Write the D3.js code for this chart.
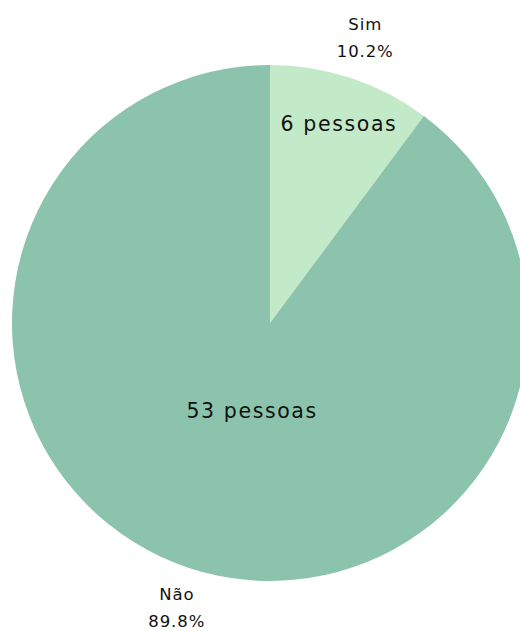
<!DOCTYPE html>
<html>
<head>
<meta charset="utf-8">
<script src="https://cdn.jsdelivr.net/npm/d3@7"></script>
<style>
  html, body { margin: 0; padding: 0; background: #fff; }
  svg { display: block; font-family: "DejaVu Sans", "Inter", sans-serif; }
</style>
</head>
<body>
<svg id="chart" width="520" height="631"></svg>
<script>
// Answers and head counts
const categories = ["Sim", "Não"];
const counts = [6, 53];
const colors = ["#c3eac8", "#8cc3ac"];

const width = 520, height = 631;
const cx = 270, cy = 323, radius = 258;

const svg = d3.select("#chart");
const g = svg.append("g").attr("transform", `translate(${cx},${cy})`);

const total = d3.sum(counts);
const data = categories.map((c, i) => ({ label: c, value: counts[i], color: colors[i] }));

const pie = d3.pie().value(d => d.value).sort(null);
const arcs = pie(data);

const arc = d3.arc().innerRadius(0).outerRadius(radius);

g.selectAll("path.slice")
  .data(arcs)
  .join("path")
  .attr("class", "slice")
  .attr("d", arc)
  .attr("fill", d => d.data.color);

// point at a given radius along the slice's middle angle
function polar(d, r) {
  const a = (d.startAngle + d.endAngle) / 2;
  return [Math.sin(a) * r, -Math.cos(a) * r];
}

// counts inside the slices (small slice near the rim, large one near the centre)
g.selectAll("text.inner")
  .data(arcs)
  .join("text")
  .attr("class", "inner")
  .attr("transform", d => {
    const small = d.value / total < 0.5;
    const [x, y] = polar(d, small ? 210 : 92);
    return `translate(${x + (small ? 3 : 11)},${y})`;
  })
  .attr("text-anchor", "middle")
  .attr("dy", "0.35em")
  .attr("font-size", 20.5)
  .attr("letter-spacing", 1.6)
  .attr("fill", "#111")
  .text(d => `${d.value} pessoas`);

// category and share outside the pie
const outer = g.selectAll("g.outer")
  .data(arcs)
  .join("g")
  .attr("class", "outer")
  .attr("transform", d => {
    const [x, y] = polar(d, 300);
    return `translate(${x + 1},${y})`;
  });

outer.append("text")
  .attr("text-anchor", "middle")
  .attr("y", -14)
  .attr("dy", "0.35em")
  .attr("font-size", 16.5)
  .attr("letter-spacing", 0.9)
  .attr("fill", "#111")
  .text(d => d.data.label);

outer.append("text")
  .attr("text-anchor", "middle")
  .attr("y", 13)
  .attr("dy", "0.35em")
  .attr("font-size", 16.5)
  .attr("letter-spacing", 0.9)
  .attr("fill", "#111")
  .text(d => d3.format(".1%")(d.value / total));
</script>
</body>
</html>
